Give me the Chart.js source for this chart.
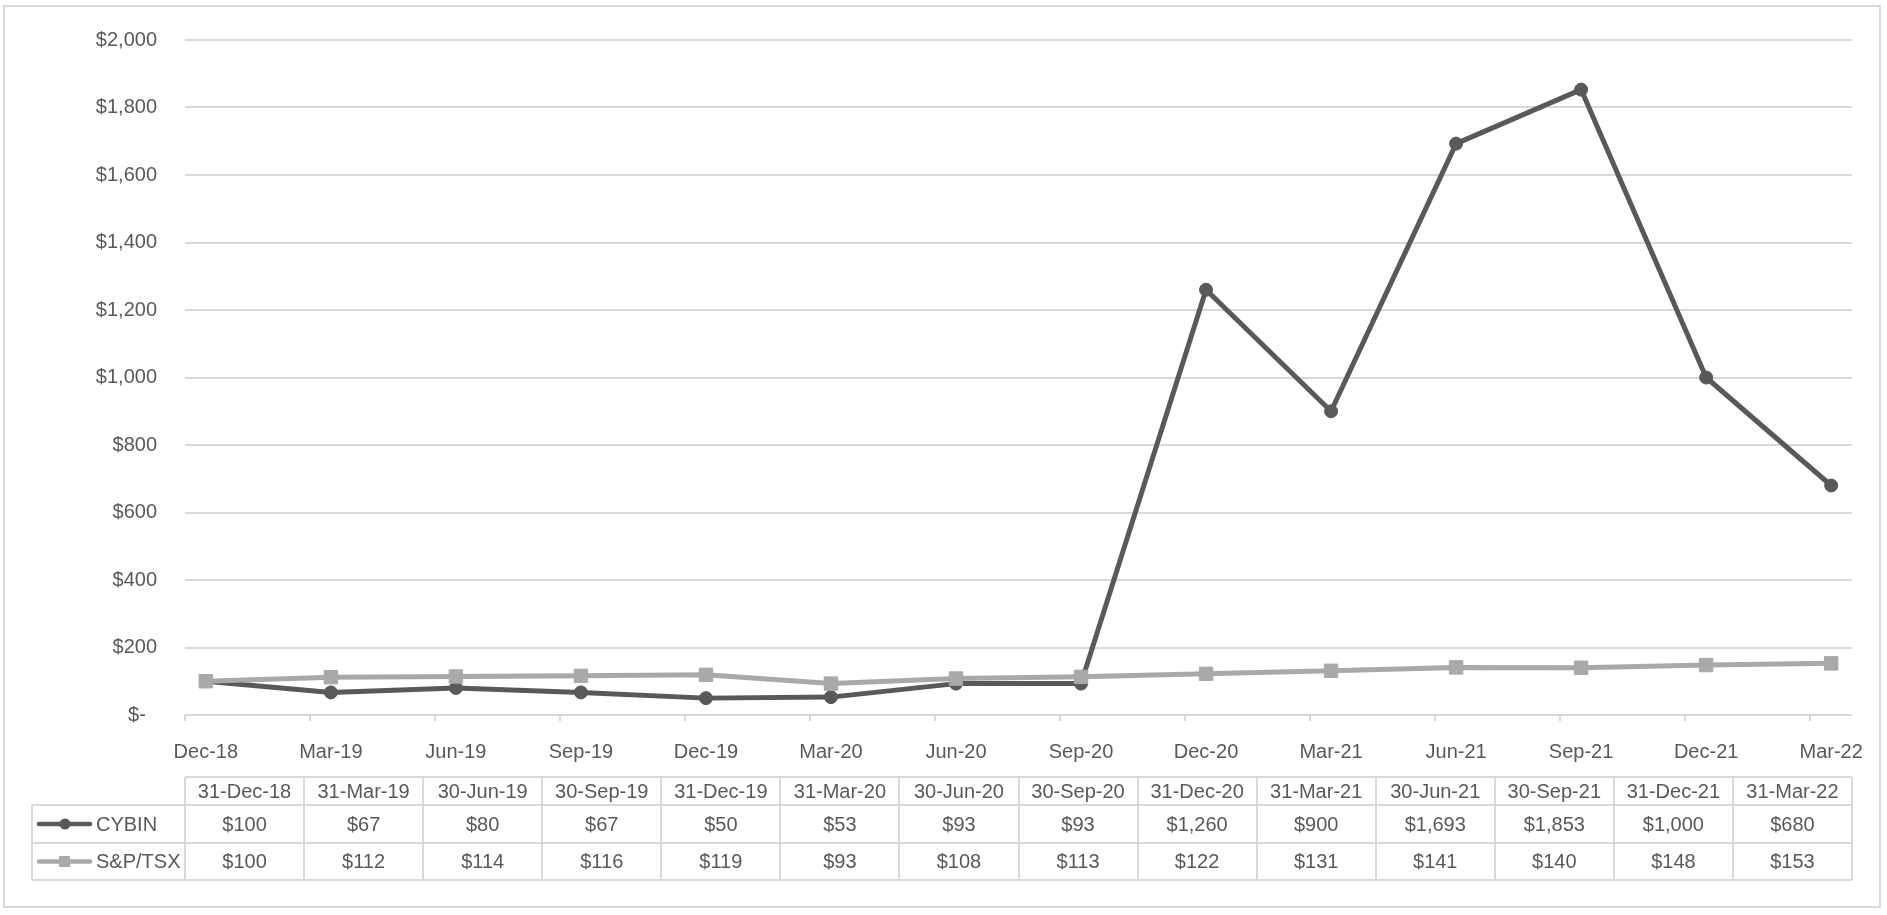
<!DOCTYPE html>
<html>
<head>
<meta charset="utf-8">
<title>CYBIN vs S&amp;P/TSX</title>
<script src="https://cdn.jsdelivr.net/npm/chart.js@4.4.1/dist/chart.umd.min.js"></script>
<style>
  html, body { margin: 0; padding: 0; background: #ffffff; }
  #wrap { width: 1887px; height: 915px; }
</style>
</head>
<body>
<div id="wrap"><canvas id="tsrChart" width="1887" height="915"></canvas></div>
<script>
// quarter ends shown in the data table
const periods = [
    '31-Dec-18', '31-Mar-19', '30-Jun-19', '30-Sep-19', '31-Dec-19', '31-Mar-20', '30-Jun-20',
    '30-Sep-20', '31-Dec-20', '31-Mar-21', '30-Jun-21', '30-Sep-21', '31-Dec-21', '31-Mar-22',
];
// axis labels (month axis, one label every 3 months)
const axisLabels = [
    'Dec-18', 'Mar-19', 'Jun-19', 'Sep-19', 'Dec-19', 'Mar-20', 'Jun-20',
    'Sep-20', 'Dec-20', 'Mar-21', 'Jun-21', 'Sep-21', 'Dec-21', 'Mar-22',
];
// months since Dec-18 for each quarter end
const monthOffsets = [0, 3, 6, 9, 12, 15, 18, 21, 24, 27, 30, 33, 36, 39];
const axisMonths = 40;

const cybin = [100, 67, 80, 67, 50, 53, 93, 93, 1260, 900, 1693, 1853, 1000, 680];
const tsx = [100, 112, 114, 116, 119, 93, 108, 113, 122, 131, 141, 140, 148, 153];

const seriesNames = ['CYBIN', 'S&P/TSX'];

const DARK = '#595959';
const LIGHT = '#a9a9a9';
const GRID = '#d9d9d9';
const FONT = "'Liberation Sans', Arial, sans-serif";

Chart.defaults.font.family = FONT;
Chart.defaults.font.size = 20;
Chart.defaults.color = DARK;

const money = (v) => '$' + v.toLocaleString('en-US');

// mid-month position of each quarter end on the month axis
const toPoints = (values) => values.map((v, i) => ({ x: monthOffsets[i] + 0.5, y: v }));

// outer frame + data table under the plot
const dataTable = {
    id: 'dataTable',
    beforeDraw(chart) {
        const ctx = chart.ctx;
        ctx.save();
        ctx.strokeStyle = GRID;
        ctx.lineWidth = 2;
        ctx.strokeRect(4, 6, chart.width - 11, chart.height - 14);
        ctx.restore();
    },
    afterDraw(chart) {
        const { ctx, chartArea } = chart;
        const left = chartArea.left;
        const right = chartArea.right;
        const colW = (right - left) / periods.length;
        const top = chartArea.bottom + 62;
        const rows = [top, top + 28, top + 66, top + 103];
        const legendLeft = 32;

        ctx.save();
        ctx.strokeStyle = GRID;
        ctx.lineWidth = 2;
        ctx.beginPath();
        ctx.moveTo(left, rows[0]);
        ctx.lineTo(right, rows[0]);
        for (let r = 1; r < rows.length; r++) {
            ctx.moveTo(legendLeft, rows[r]);
            ctx.lineTo(right, rows[r]);
        }
        ctx.moveTo(legendLeft, rows[1]);
        ctx.lineTo(legendLeft, rows[3]);
        for (let c = 0; c <= periods.length; c++) {
            const x = Math.round(left + c * colW);
            ctx.moveTo(x, rows[0]);
            ctx.lineTo(x, rows[3]);
        }
        ctx.stroke();

        ctx.fillStyle = DARK;
        ctx.font = '20px ' + FONT;
        ctx.textAlign = 'center';
        ctx.textBaseline = 'middle';
        periods.forEach((p, i) => {
            ctx.fillText(p, left + (i + 0.5) * colW, (rows[0] + rows[1]) / 2 + 1);
        });
        [cybin, tsx].forEach((vals, r) => {
            const cy = (rows[r + 1] + rows[r + 2]) / 2 + 1;
            vals.forEach((v, i) => {
                ctx.fillText(money(v), left + (i + 0.5) * colW, cy);
            });
        });

        // legend keys
        const keys = [
            { color: DARK, shape: 'circle' },
            { color: LIGHT, shape: 'rect' },
        ];
        keys.forEach((k, r) => {
            const cy = (rows[r + 1] + rows[r + 2]) / 2;
            ctx.strokeStyle = k.color;
            ctx.fillStyle = k.color;
            ctx.lineWidth = 4.5;
            ctx.lineCap = 'round';
            ctx.beginPath();
            ctx.moveTo(39, cy);
            ctx.lineTo(90, cy);
            ctx.stroke();
            if (k.shape === 'circle') {
                ctx.beginPath();
                ctx.arc(65, cy, 5.5, 0, Math.PI * 2);
                ctx.fill();
            } else {
                ctx.fillRect(59, cy - 5.5, 11, 11);
            }
            ctx.fillStyle = DARK;
            ctx.textAlign = 'left';
            ctx.fillText(seriesNames[r], 96, cy + 1);
        });
        ctx.restore();
    },
};

const tsrChart = new Chart(document.querySelector('#tsrChart'), {
    type: 'line',
    data: {
        datasets: [
            {
                label: seriesNames[0],
                data: toPoints(cybin),
                borderColor: DARK,
                backgroundColor: DARK,
                borderWidth: 5,
                pointStyle: 'circle',
                pointRadius: 6.5,
                pointBorderWidth: 1,
                pointBackgroundColor: DARK,
                pointBorderColor: DARK,
                borderJoinStyle: 'round',
                order: 1,
            },
            {
                label: seriesNames[1],
                data: toPoints(tsx),
                borderColor: LIGHT,
                backgroundColor: LIGHT,
                borderWidth: 5,
                pointStyle: 'rect',
                pointRadius: 9.5,
                pointBorderWidth: 1,
                pointBackgroundColor: LIGHT,
                pointBorderColor: LIGHT,
                borderJoinStyle: 'round',
                order: 0,
            },
        ],
    },
    options: {
        responsive: false,
        animation: false,
        layout: {
            padding: { top: 35, right: 35, bottom: 0, left: 0 },
        },
        plugins: {
            legend: { display: false },
            tooltip: { enabled: false },
        },
        scales: {
            x: {
                type: 'linear',
                position: 'bottom',
                weight: 1,
                min: 0,
                max: axisMonths,
                grid: { display: false },
                border: { display: false },
                afterBuildTicks: (scale) => {
                    scale.ticks = monthOffsets.map((m) => ({ value: m + 0.5 }));
                },
                afterFit: (scale) => {
                    scale.height = 194;
                },
                ticks: {
                    autoSkip: false,
                    maxRotation: 0,
                    padding: 11,
                    color: DARK,
                    callback: (value, index) => axisLabels[index],
                },
            },
            xTicks: {
                type: 'linear',
                position: 'bottom',
                weight: 0,
                min: 0,
                max: axisMonths,
                grid: {
                    drawOnChartArea: false,
                    drawTicks: true,
                    tickLength: 6,
                    color: GRID,
                    lineWidth: 2,
                },
                border: { display: false },
                afterBuildTicks: (scale) => {
                    scale.ticks = monthOffsets.map((m) => ({ value: m }));
                },
                afterFit: (scale) => {
                    scale.height = 6;
                },
                ticks: { display: false },
            },
            y: {
                min: 0,
                max: 2000,
                grid: {
                    color: GRID,
                    lineWidth: 2,
                    drawTicks: false,
                },
                border: { display: false },
                afterFit: (scale) => {
                    scale.width = 185;
                },
                ticks: {
                    stepSize: 200,
                    padding: 28,
                    color: DARK,
                    callback: (value) => (value === 0 ? '$-  ' : money(value)),
                },
            },
        },
    },
    plugins: [dataTable],
});
</script>
</body>
</html>
